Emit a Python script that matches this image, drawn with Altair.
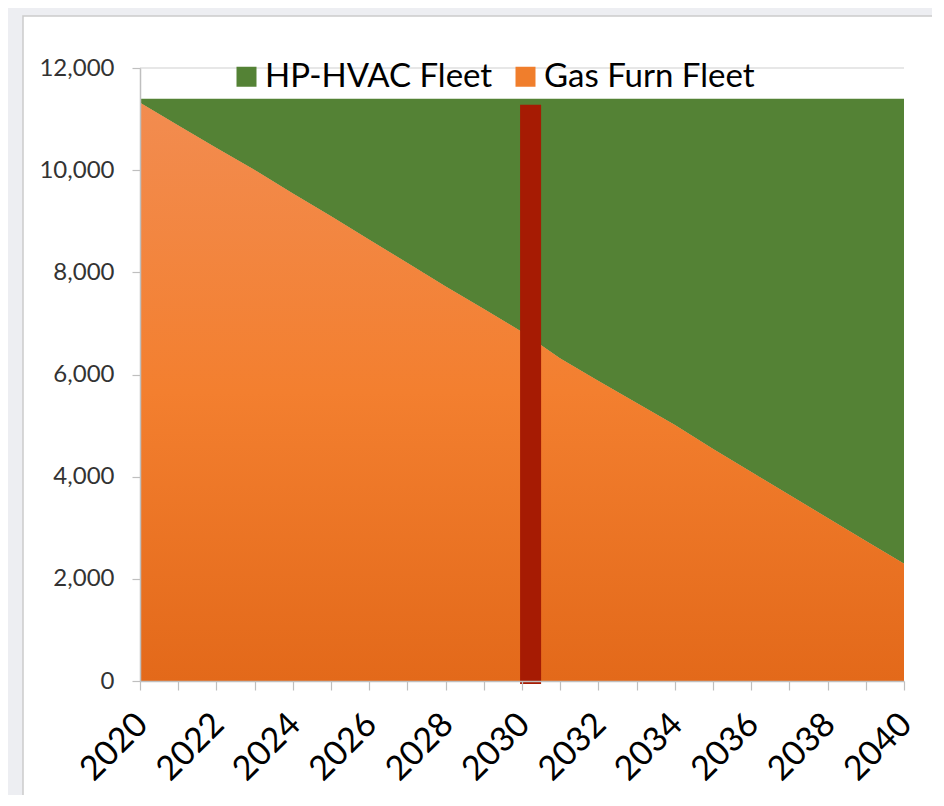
import altair as alt
import pandas as pd

# ---- data ----
years = list(range(2020, 2041))
gas_furn = [11320, 10875, 10435, 10004, 9544, 9100, 8637, 8183, 7723, 7283, 6832,
            6312, 5873, 5442, 5012, 4542, 4092, 3641, 3191, 2740, 2294]
hp_hvac = [80, 525, 965, 1396, 1856, 2300, 2763, 3217, 3677, 4117, 4568,
           5088, 5527, 5958, 6388, 6858, 7308, 7759, 8209, 8660, 9106]
series_names = ["HP-HVAC Fleet", "Gas Furn Fleet"]
series_colors = ["#548235", "#F07E2C"]
y_ticks = [0, 2000, 4000, 6000, 8000, 10000, 12000]
marker_start = [2029.95]
marker_end = [2030.5]
marker_low = [-60]
marker_high = [11280]

# ---- tables ----
rows = []
for i, yr in enumerate(years):
    rows.append({"year": yr, "series": "Gas Furn Fleet", "value": gas_furn[i], "ord": 0})
    rows.append({"year": yr, "series": "HP-HVAC Fleet", "value": hp_hvac[i], "ord": 1})
long_df = pd.DataFrame(rows)
gas_df = pd.DataFrame({"year": years, "gas": gas_furn})
grid_df = pd.DataFrame({"v": y_ticks})
marker_df = pd.DataFrame({"x1": marker_start, "x2": marker_end, "y1": marker_low, "y2": marker_high})
one_df = pd.DataFrame({"a": [0]})

W, H = 764, 613
FONT = "Lato"

x_scale = alt.Scale(domain=[2020, 2040], nice=False, zero=False)
y_scale = alt.Scale(domain=[0, 12000], nice=False)

x_axis = alt.Axis(
    title=None, values=years, grid=False, zindex=1,
    labelExpr="datum.value % 2 == 0 ? '' + datum.value : ''",
    labelAngle=-45, labelAlign="right", labelBaseline="top",
    labelFont=FONT, labelFontSize=34, labelColor="#000000", labelPadding=17, labelOffset=-10,
    labelOverlap=False, labelFlush=False, labelBound=False,
    domainColor="#BFBFBF", domainWidth=1.5, tickColor="#BFBFBF", tickSize=9, tickWidth=1.2,
)
y_axis = alt.Axis(
    title=None, values=y_ticks, grid=False, zindex=1,
    labelExpr="format(datum.value, ',')",
    labelFont=FONT, labelFontSize=24, labelColor="#333333", labelPadding=18,
    domainColor="#BFBFBF", domainWidth=1.5, tickColor="#BFBFBF", tickSize=8, tickWidth=1.2,
)

panel = alt.Chart(one_df).mark_rect(fill="white", stroke="#CBCBCB", strokeWidth=1.5).encode(
    x=alt.value(-117), x2=alt.value(W + 200), y=alt.value(-52), y2=alt.value(H + 300)
)

grid = alt.Chart(grid_df).mark_rule(color="#D0D0D0", strokeWidth=1.2).encode(
    y=alt.Y("v:Q", scale=y_scale, axis=y_axis)
)

stacked = alt.Chart(long_df).mark_area(interpolate="linear").encode(
    x=alt.X("year:Q", scale=x_scale, axis=x_axis),
    y=alt.Y("value:Q", stack="zero", scale=y_scale, axis=y_axis),
    color=alt.Color(
        "series:N",
        scale=alt.Scale(domain=series_names, range=series_colors),
        legend=alt.Legend(
            title=None, orient="none", legendX=90, legendY=-8, direction="horizontal",
            symbolType="square", symbolSize=400, symbolStrokeWidth=0,
            labelFont=FONT, labelFontSize=33, labelColor="#000000", labelLimit=500,
            columnPadding=16, labelOffset=2, padding=0,
        ),
    ),
    order=alt.Order("ord:Q"),
)

gas_gradient = alt.Gradient(
    gradient="linear",
    stops=[
        alt.GradientStop(color="#F28C50", offset=0),
        alt.GradientStop(color="#F37F2F", offset=0.5),
        alt.GradientStop(color="#E3691A", offset=1),
    ],
    x1=0, x2=0, y1=0, y2=1,
)
gas_area = alt.Chart(gas_df).mark_area(color=gas_gradient, interpolate="linear").encode(
    x=alt.X("year:Q", scale=x_scale, axis=x_axis),
    y=alt.Y("gas:Q", scale=y_scale, axis=y_axis),
)

marker = alt.Chart(marker_df).mark_rect(color="#A61B03").encode(
    x=alt.X("x1:Q", scale=x_scale, axis=x_axis),
    x2="x2:Q",
    y=alt.Y("y1:Q", scale=y_scale, axis=y_axis),
    y2="y2:Q",
)

chart = alt.layer(panel, grid, stacked, gas_area, marker).properties(
    width=W, height=H,
    background="#EDEEF2",
    padding={"left": 132, "top": 60, "right": 28, "bottom": 114},
    autosize=alt.AutoSizeParams(type="none"),
).configure_view(strokeWidth=0)

chart.save("out.html", embed_options={"renderer": "svg", "actions": False})
